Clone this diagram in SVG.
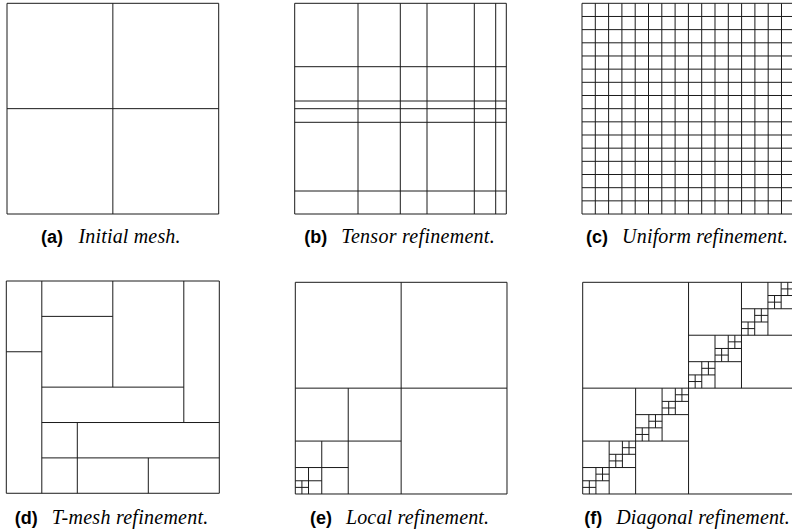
<svg xmlns="http://www.w3.org/2000/svg" width="792" height="532" viewBox="0 0 792 532">
<style>
  .m path, .m rect { fill: none; stroke: #1a1a1a; stroke-width: 1; vector-effect: non-scaling-stroke; }
  .lbl { font-family: "Liberation Sans", Arial, sans-serif; font-weight: bold; font-size: 18px; fill: #000; }
  .cap { font-family: "Liberation Serif", "Times New Roman", serif; font-style: italic; font-size: 20px; fill: #000; }
</style>
<rect width="792" height="532" fill="#fff"/>

<g id="panel-a" class="m">
  <rect x="7" y="3.3" width="211.7" height="210.7"/>
  <path d="M112.85 3.3V214M7 108.65H218.7"/>
</g>

<g id="panel-b" class="m">
  <rect x="294.7" y="3.3" width="211.6" height="210.7"/>
  <path d="M358 3.3V214M400.3 3.3V214M427 3.3V214M474.3 3.3V214M495.7 3.3V214
           M294.7 66.7H506.3M294.7 101H506.3M294.7 108.7H506.3M294.7 122.3H506.3M294.7 191H506.3"/>
</g>

<g id="panel-c" class="m" transform="translate(582 3.3) scale(13.3 13.17)">
  <rect x="0" y="0" width="16" height="16"/>
  <path d="M1 0V16M2 0V16M3 0V16M4 0V16M5 0V16M6 0V16M7 0V16M8 0V16M9 0V16M10 0V16M11 0V16M12 0V16M13 0V16M14 0V16M15 0V16
           M0 1H16M0 2H16M0 3H16M0 4H16M0 5H16M0 6H16M0 7H16M0 8H16M0 9H16M0 10H16M0 11H16M0 12H16M0 13H16M0 14H16M0 15H16"/>
</g>

<g id="panel-d" class="m" transform="translate(6.3 281) scale(35.5 35.38)">
  <rect x="0" y="0" width="6" height="6"/>
  <path d="M1 0V6M0 2H1M3 0V3M1 1H3M5 0V4M1 3H5M1 4H6M2 4V6M1 5H6M4 5V6"/>
</g>

<g id="panel-e" class="m" transform="translate(295.3 282.3) scale(6.6156 6.6156)">
  <rect x="0" y="0" width="32" height="32"/>
  <path d="M16 0V32M0 16H32M8 16V32M0 24H16M4 24V32M0 28H8M2 28V32M0 30H4M1 30V32M0 31H2"/>
</g>

<g id="panel-f" class="m" transform="translate(582.7 282.3) scale(6.6156 6.6156)">
  <rect x="0" y="0" width="32" height="32"/>
  <path d="M16 0V32M0 16H32
           M8 16V32M0 24H16M24 0V16M16 8H32
           M4 24V32M0 28H8M12 16V24M8 20H16M20 8V16M16 12H24M28 0V8M24 4H32
           M2 28V32M0 30H4M6 24V28M4 26H8M10 20V24M8 22H12M14 16V20M12 18H16
           M18 12V16M16 14H20M22 8V12M20 10H24M26 4V8M24 6H28M30 0V4M28 2H32
           M1 30V32M0 31H2M3 28V30M2 29H4M5 26V28M4 27H6M7 24V26M6 25H8
           M9 22V24M8 23H10M11 20V22M10 21H12M13 18V20M12 19H14M15 16V18M14 17H16
           M17 14V16M16 15H18M19 12V14M18 13H20M21 10V12M20 11H22M23 8V10M22 9H24
           M25 6V8M24 7H26M27 4V6M26 5H28M29 2V4M28 3H30M31 0V2M30 1H32"/>
</g>

<g id="captions">
  <text class="lbl" x="41" y="243">(a)</text>
  <text class="cap" x="78.5" y="243" textLength="102">Initial mesh.</text>
  <text class="lbl" x="304.3" y="243">(b)</text>
  <text class="cap" x="341.3" y="243" textLength="153.4">Tensor refinement.</text>
  <text class="lbl" x="586.1" y="243">(c)</text>
  <text class="cap" x="622.1" y="243" textLength="165.8">Uniform refinement.</text>
  <text class="lbl" x="14.65" y="524">(d)</text>
  <text class="cap" x="51.65" y="524" textLength="156.7">T-mesh refinement.</text>
  <text class="lbl" x="309.9" y="524">(e)</text>
  <text class="cap" x="345.9" y="524" textLength="143.2">Local refinement.</text>
  <text class="lbl" x="584.15" y="524">(f)</text>
  <text class="cap" x="616.15" y="524" textLength="173.7">Diagonal refinement.</text>
</g>
</svg>
